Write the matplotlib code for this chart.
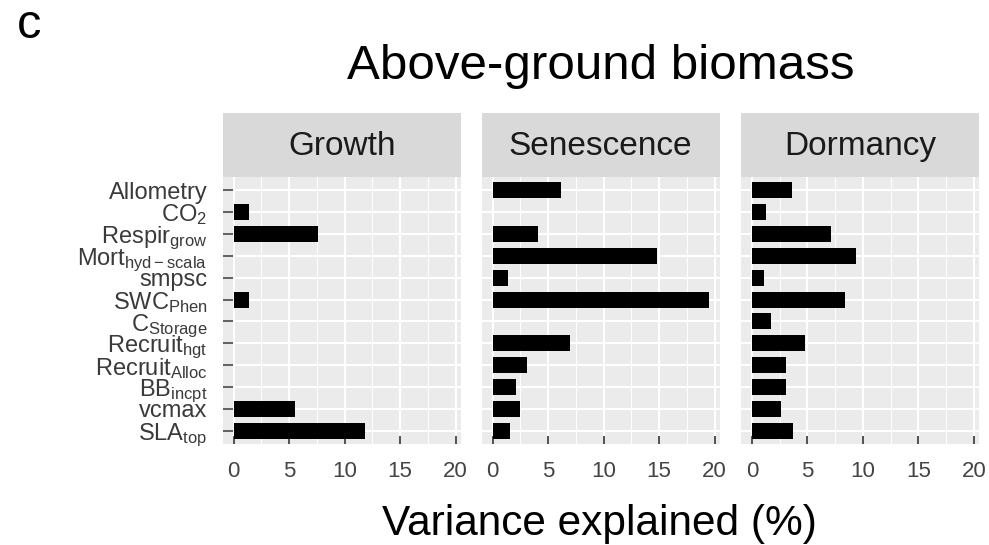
import numpy as np
import matplotlib
matplotlib.use("Agg")
from matplotlib import pyplot as plt

plt.rcParams['font.family'] = ['Liberation Sans', 'DejaVu Sans']
plt.rcParams['mathtext.fontset'] = 'custom'
plt.rcParams['mathtext.rm'] = 'Liberation Sans'
plt.rcParams['mathtext.it'] = 'Liberation Sans'
plt.rcParams['mathtext.default'] = 'regular'

# parameters, top to bottom
params = [r'Allometry', r'CO$_2$', r'Respir$_{grow}$', r'Mort$_{hyd-scala}$',
          r'smpsc', r'SWC$_{Phen}$', r'C$_{Storage}$', r'Recruit$_{hgt}$',
          r'Recruit$_{Alloc}$', r'BB$_{incpt}$', r'vcmax', r'SLA$_{top}$']

panels = ['Growth', 'Senescence', 'Dormancy']

growth = [0, 1.35, 7.6, 0, 0, 1.35, 0, 0, 0, 0, 5.55, 11.8]
senescence = [6.2, 0, 4.1, 14.85, 1.4, 19.45, 0, 7.0, 3.1, 2.1, 2.5, 1.6]
dormancy = [3.6, 1.3, 7.1, 9.35, 1.1, 8.4, 1.7, 4.8, 3.1, 3.1, 2.6, 3.7]

values = [growth, senescence, dormancy]

W, H = 989, 545
fig = plt.figure(figsize=(W / 100, H / 100), dpi=100)

lefts = [222.7, 481.7, 741.0]
pw = 238.0
ptop, pbot = 177.0, 444.0
stop = 113.0

y = np.arange(len(params))[::-1] + 1
for i in range(3):
    ax = fig.add_axes([lefts[i] / W, 1 - pbot / H, pw / W, (pbot - ptop) / H])
    ax.set_facecolor('#EBEBEB')
    v = np.array(values[i])
    ax.barh(y, v, height=0.73, color='black', linewidth=0, zorder=3)
    ax.set_xlim(-0.975, 20.45)
    ax.set_ylim(0.4, len(params) + 0.6)
    ax.set_xticks([0, 5, 10, 15, 20])
    ax.set_xticks([2.5, 7.5, 12.5, 17.5], minor=True)
    ax.set_yticks(y)
    ax.grid(which='major', color='white', linewidth=1.5, zorder=0)
    ax.grid(which='minor', axis='x', color='white', linewidth=0.7, zorder=0)
    ax.set_axisbelow(True)
    for s in ax.spines.values():
        s.set_visible(False)
    ax.tick_params(axis='x', which='major', direction='in', length=6, width=1.2,
                   color='#333333', labelsize=16, labelcolor='#444444', pad=12)
    ax.tick_params(axis='x', which='minor', length=0)
    if i == 0:
        ax.set_yticklabels(params)
        ax.tick_params(axis='y', direction='in', length=7.5, width=1.2, color='#444444',
                       labelsize=17, labelcolor='#3a3a3a', pad=11)
    else:
        ax.tick_params(axis='y', length=0, labelleft=False)

    sax = fig.add_axes([lefts[i] / W, 1 - ptop / H, pw / W, (ptop - stop) / H])
    sax.set_facecolor('#D9D9D9')
    sax.set_xticks([])
    sax.set_yticks([])
    for s in sax.spines.values():
        s.set_visible(False)
    sax.text(0.5, 0.48, panels[i], ha='center', va='center', fontsize=24,
             color='#1a1a1a', transform=sax.transAxes)

fig.text(600.5 / W, 1 - 79 / H, 'Above-ground biomass', ha='center', va='baseline', fontsize=35.5)
fig.text(599 / W, 1 - 535 / H, 'Variance explained (%)', ha='center', va='baseline', fontsize=30.5)
fig.text(17 / W, 1 - 38 / H, 'c', ha='left', va='baseline', fontsize=35)

plt.savefig('out.png', dpi=100)
